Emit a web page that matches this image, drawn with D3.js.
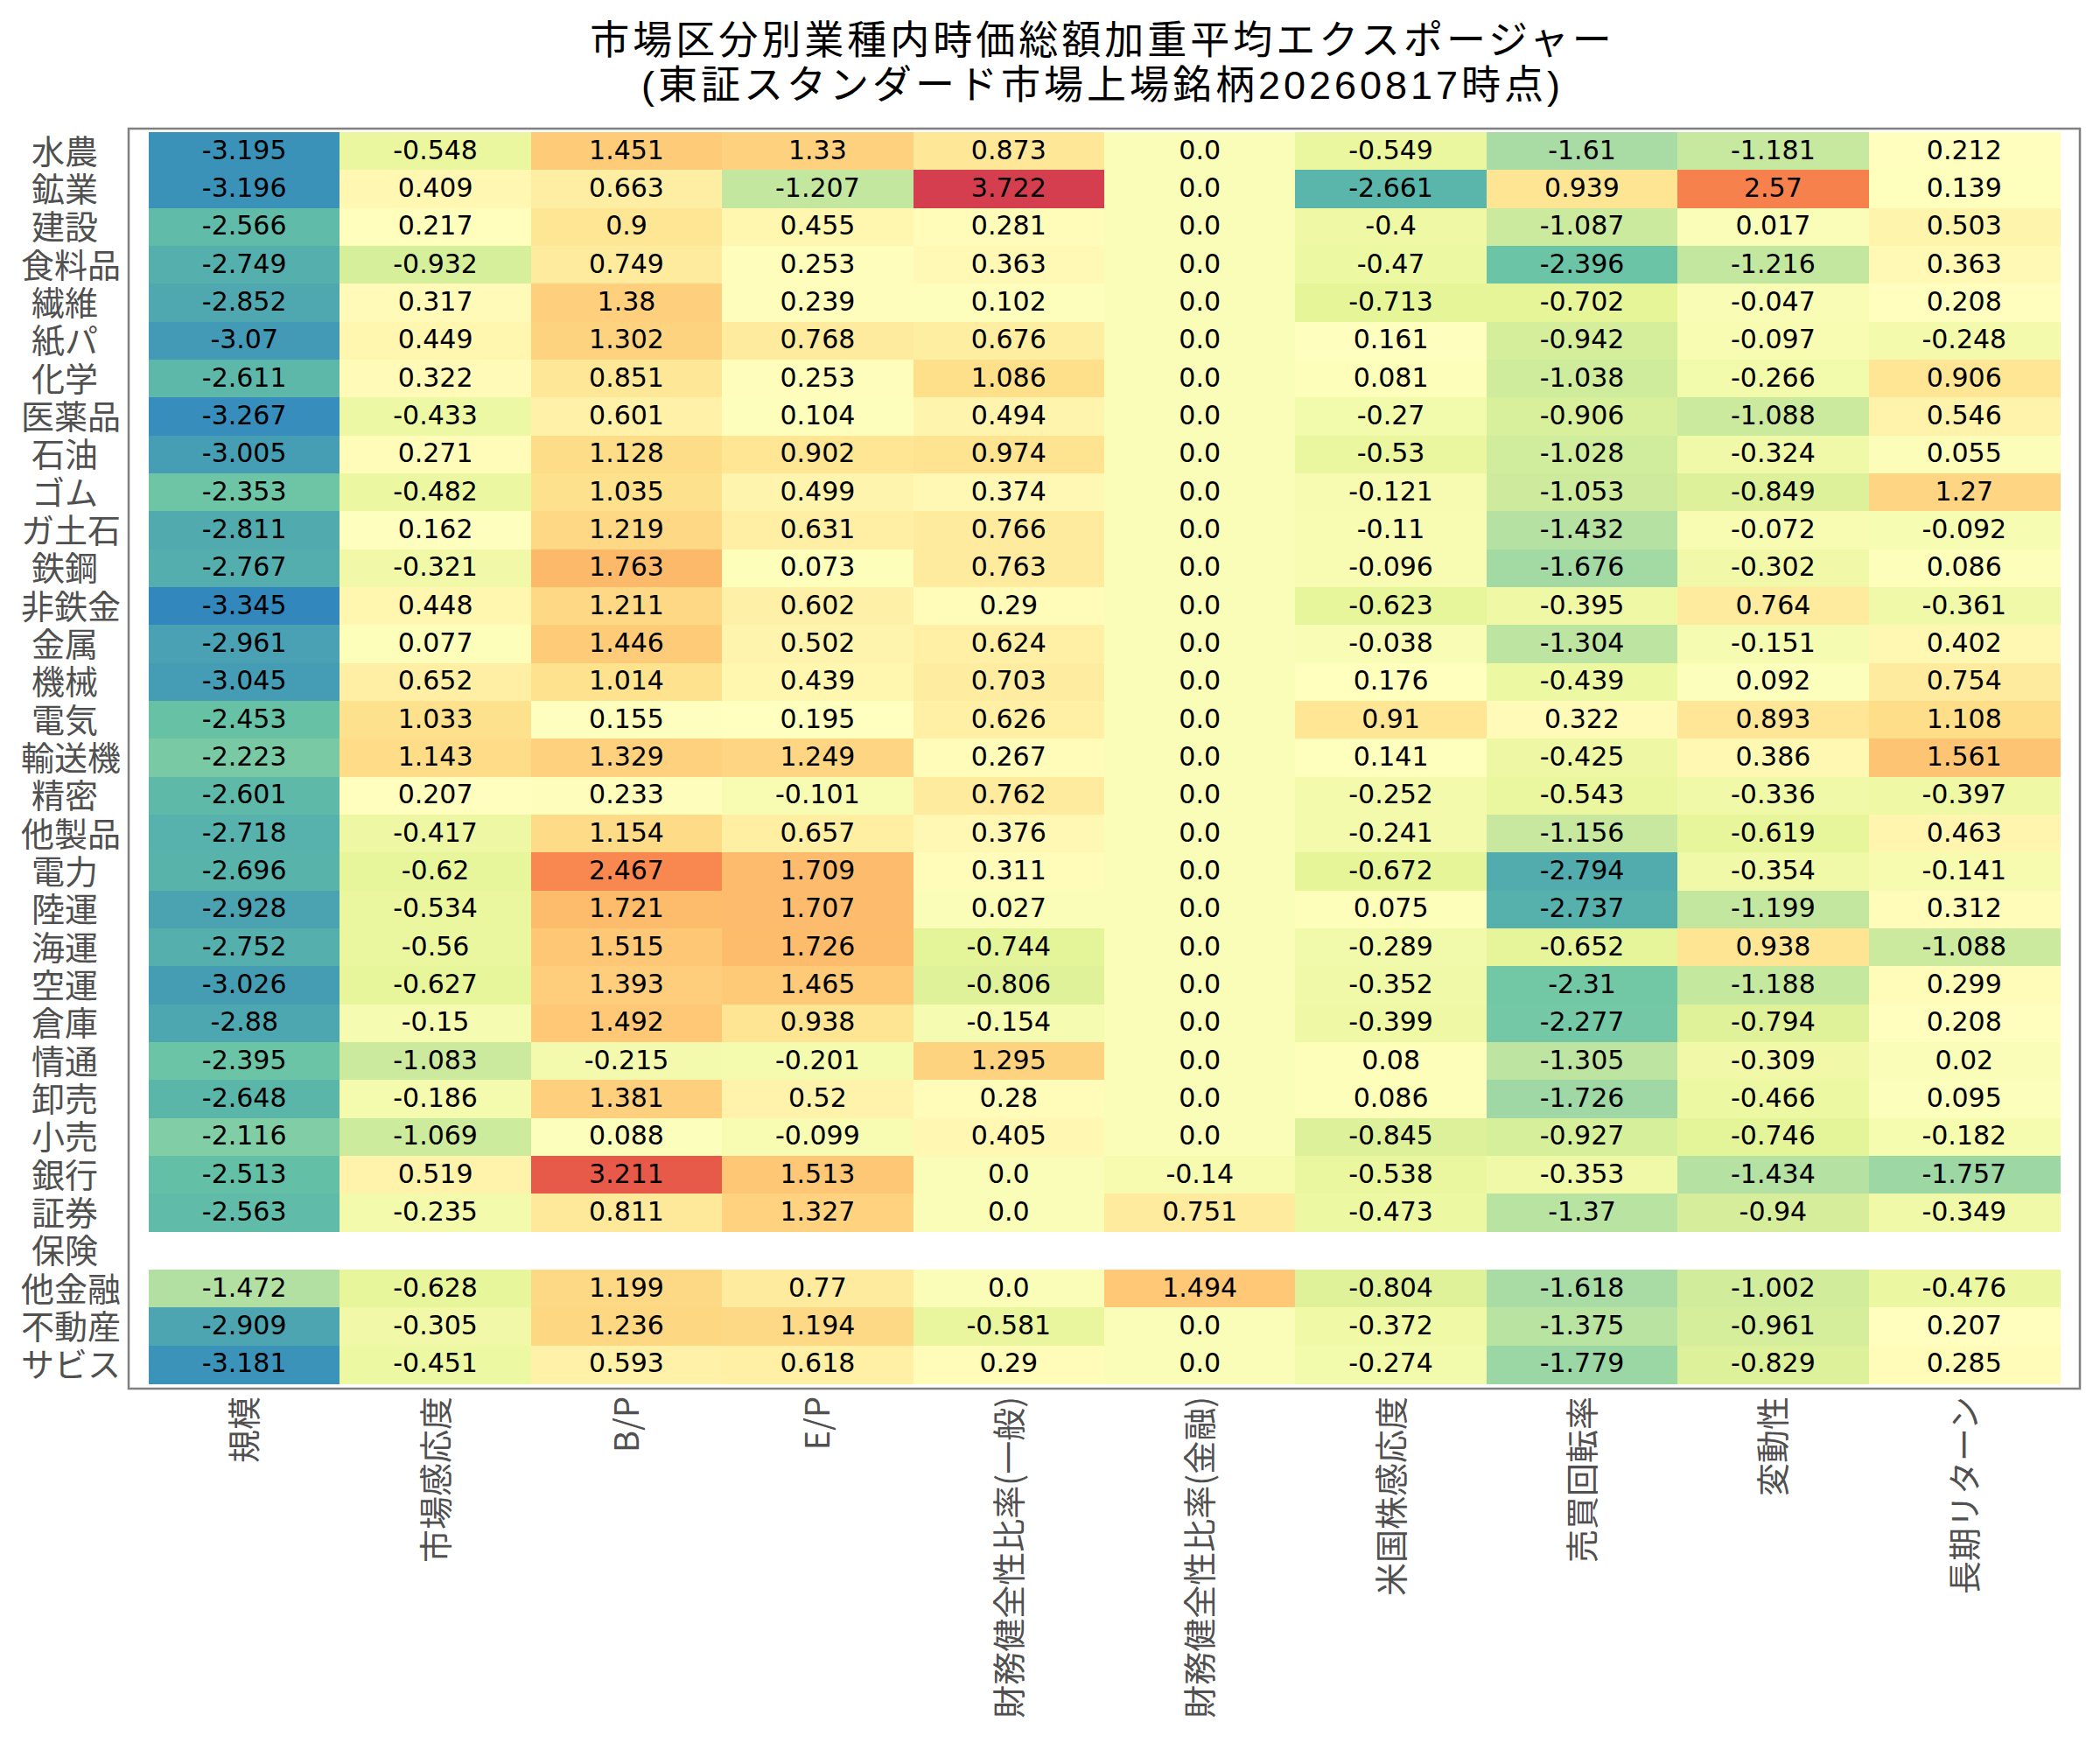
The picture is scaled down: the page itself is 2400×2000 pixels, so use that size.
<!DOCTYPE html>
<html>
<head>
<meta charset="utf-8">
<script src="https://cdn.jsdelivr.net/npm/d3@7"></script>
<style>
  html, body { margin: 0; padding: 0; background: #ffffff; }
  svg { display: block; }
</style>
</head>
<body>
<div id="chart"></div>
<script>
// ---------------- data ----------------
const titleLines = [
  "市場区分別業種内時価総額加重平均エクスポージャー",
  "(東証スタンダード市場上場銘柄20260817時点)"
];

const industries = ["水農","鉱業","建設","食料品","繊維","紙パ","化学","医薬品","石油","ゴム",
  "ガ土石","鉄鋼","非鉄金","金属","機械","電気","輸送機","精密","他製品","電力",
  "陸運","海運","空運","倉庫","情通","卸売","小売","銀行","証券","保険",
  "他金融","不動産","サビス"];

const factors = ["規模","市場感応度","B/P","E/P","財務健全性比率(一般)","財務健全性比率(金融)",
  "米国株感応度","売買回転率","変動性","長期リターン"];

// one array per factor, in industry order (null = no data, 保険)
const sizeVals = [-3.195,-3.196,-2.566,-2.749,-2.852,-3.07,-2.611,-3.267,-3.005,-2.353,
  -2.811,-2.767,-3.345,-2.961,-3.045,-2.453,-2.223,-2.601,-2.718,-2.696,
  -2.928,-2.752,-3.026,-2.88,-2.395,-2.648,-2.116,-2.513,-2.563,null,
  -1.472,-2.909,-3.181];
const betaVals = [-0.548,0.409,0.217,-0.932,0.317,0.449,0.322,-0.433,0.271,-0.482,
  0.162,-0.321,0.448,0.077,0.652,1.033,1.143,0.207,-0.417,-0.62,
  -0.534,-0.56,-0.627,-0.15,-1.083,-0.186,-1.069,0.519,-0.235,null,
  -0.628,-0.305,-0.451];
const bpVals = [1.451,0.663,0.9,0.749,1.38,1.302,0.851,0.601,1.128,1.035,
  1.219,1.763,1.211,1.446,1.014,0.155,1.329,0.233,1.154,2.467,
  1.721,1.515,1.393,1.492,-0.215,1.381,0.088,3.211,0.811,null,
  1.199,1.236,0.593];
const epVals = [1.33,-1.207,0.455,0.253,0.239,0.768,0.253,0.104,0.902,0.499,
  0.631,0.073,0.602,0.502,0.439,0.195,1.249,-0.101,0.657,1.709,
  1.707,1.726,1.465,0.938,-0.201,0.52,-0.099,1.513,1.327,null,
  0.77,1.194,0.618];
const levGenVals = [0.873,3.722,0.281,0.363,0.102,0.676,1.086,0.494,0.974,0.374,
  0.766,0.763,0.29,0.624,0.703,0.626,0.267,0.762,0.376,0.311,
  0.027,-0.744,-0.806,-0.154,1.295,0.28,0.405,0.0,0.0,null,
  0.0,-0.581,0.29];
const levFinVals = [0.0,0.0,0.0,0.0,0.0,0.0,0.0,0.0,0.0,0.0,
  0.0,0.0,0.0,0.0,0.0,0.0,0.0,0.0,0.0,0.0,
  0.0,0.0,0.0,0.0,0.0,0.0,0.0,-0.14,0.751,null,
  1.494,0.0,0.0];
const usVals = [-0.549,-2.661,-0.4,-0.47,-0.713,0.161,0.081,-0.27,-0.53,-0.121,
  -0.11,-0.096,-0.623,-0.038,0.176,0.91,0.141,-0.252,-0.241,-0.672,
  0.075,-0.289,-0.352,-0.399,0.08,0.086,-0.845,-0.538,-0.473,null,
  -0.804,-0.372,-0.274];
const turnoverVals = [-1.61,0.939,-1.087,-2.396,-0.702,-0.942,-1.038,-0.906,-1.028,-1.053,
  -1.432,-1.676,-0.395,-1.304,-0.439,0.322,-0.425,-0.543,-1.156,-2.794,
  -2.737,-0.652,-2.31,-2.277,-1.305,-1.726,-0.927,-0.353,-1.37,null,
  -1.618,-1.375,-1.779];
const volVals = [-1.181,2.57,0.017,-1.216,-0.047,-0.097,-0.266,-1.088,-0.324,-0.849,
  -0.072,-0.302,0.764,-0.151,0.092,0.893,0.386,-0.336,-0.619,-0.354,
  -1.199,0.938,-1.188,-0.794,-0.309,-0.466,-0.746,-1.434,-0.94,null,
  -1.002,-0.961,-0.829];
const ltrVals = [0.212,0.139,0.503,0.363,0.208,-0.248,0.906,0.546,0.055,1.27,
  -0.092,0.086,-0.361,0.402,0.754,1.108,1.561,-0.397,0.463,-0.141,
  0.312,-1.088,0.299,0.208,0.02,0.095,-0.182,-1.757,-0.349,null,
  -0.476,0.207,0.285];

const seriesByFactor = [sizeVals, betaVals, bpVals, epVals, levGenVals, levFinVals,
  usVals, turnoverVals, volVals, ltrVals];

// ---------------- build table ----------------
const cells = [];
factors.forEach((f, j) => {
  industries.forEach((ind, i) => {
    const v = seriesByFactor[j][i];
    if (v !== null && v !== undefined) cells.push({ factor: f, industry: ind, value: v });
  });
});

// ---------------- drawing ----------------
const W = 2400, H = 2000;
const frame = { left: 147, top: 147, right: 2377, bottom: 1587 };
const cellArea = { left: 170, right: 2354, top: 151, bottom: 1581 };

const svg = d3.select("#chart").append("svg")
  .attr("width", W).attr("height", H)
  .attr("viewBox", `0 0 ${W} ${H}`);

svg.append("rect").attr("x", 0).attr("y", 0).attr("width", W).attr("height", H).attr("fill", "#ffffff");

const x = d3.scaleBand().domain(factors).range([cellArea.left, cellArea.right]).padding(0);
const y = d3.scaleBand().domain(industries).range([cellArea.top, cellArea.bottom]).padding(0);

const ext = d3.extent(cells, d => d.value);
const palette = d3.schemeSpectral[9].slice().reverse();
const color = d3.scaleLinear()
  .domain(palette.map((_, k) => ext[0] + (ext[1] - ext[0]) * k / (palette.length - 1)))
  .range(palette)
  .interpolate(d3.interpolateRgb);

const fmt = v => Number.isInteger(v) ? v.toFixed(1) : String(v);

const g = svg.append("g");
g.selectAll("rect.cell").data(cells).join("rect")
  .attr("class", "cell")
  .attr("x", d => x(d.factor))
  .attr("y", d => y(d.industry))
  .attr("width", x.bandwidth() + 0.5)
  .attr("height", y.bandwidth() + 0.5)
  .attr("fill", d => color(d.value))
  .attr("shape-rendering", "crispEdges");

g.selectAll("text.val").data(cells).join("text")
  .attr("class", "val")
  .attr("x", d => x(d.factor) + x.bandwidth() / 2)
  .attr("y", d => y(d.industry) + y.bandwidth() / 2 + 9)
  .attr("text-anchor", "middle")
  .attr("font-family", "'DejaVu Sans', Verdana, sans-serif")
  .attr("font-size", 30)
  .attr("fill", "#000000")
  .text(d => fmt(d.value));

// frame
svg.append("rect")
  .attr("x", frame.left).attr("y", frame.top)
  .attr("width", frame.right - frame.left).attr("height", frame.bottom - frame.top)
  .attr("fill", "none").attr("stroke", "#808080").attr("stroke-width", 2.5);

const cjk = "'Noto Sans CJK JP', 'Noto Sans', sans-serif";
const cjkTight = "'Liberation Sans', 'Noto Sans CJK JP', sans-serif";
const labelColor = "#505050";

// y axis (industries)
const yAxis = svg.append("g")
  .attr("transform", `translate(${frame.left},0)`)
  .call(d3.axisLeft(y).tickSize(0).tickPadding(0));
yAxis.select(".domain").remove();
yAxis.selectAll(".tick text")
  .attr("font-family", cjkTight)
  .attr("font-size", 38)
  .attr("fill", labelColor)
  .attr("dy", null)
  .attr("y", 14)
  .attr("x", d => -9 - (3 - d.length) * 26)
  .attr("text-anchor", "end");

// x axis (factors)
const xAxis = svg.append("g")
  .attr("transform", `translate(0,${frame.bottom})`)
  .call(d3.axisBottom(x).tickSize(0).tickPadding(0));
xAxis.select(".domain").remove();
xAxis.selectAll(".tick text")
  .attr("font-family", cjk)
  .attr("font-size", 38)
  .attr("fill", labelColor)
  .attr("dy", null)
  .attr("y", 0)
  .attr("x", 0)
  .attr("text-anchor", "end")
  .attr("transform", "translate(14,9) rotate(-90)");

// title (two separate lines)
svg.selectAll("text.title").data(titleLines).join("text")
  .attr("class", "title")
  .attr("x", 1260)
  .attr("y", (d, i) => 62 + i * 51)
  .attr("text-anchor", "middle")
  .attr("font-family", cjkTight)
  .attr("font-size", 45)
  .attr("letter-spacing", 4)
  .attr("fill", "#000000")
  .text(d => d);
</script>
</body>
</html>
